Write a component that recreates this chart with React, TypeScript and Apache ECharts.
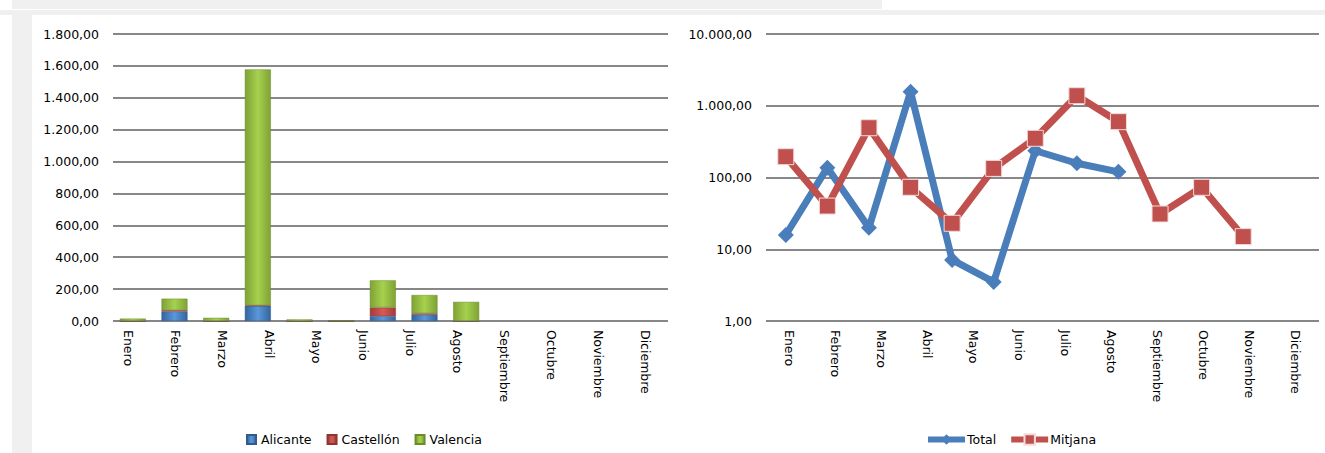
import React, { useEffect, useRef } from "react";
import * as echarts from "echarts";

const months = ["Enero", "Febrero", "Marzo", "Abril", "Mayo", "Junio", "Julio", "Agosto", "Septiembre", "Octubre", "Noviembre", "Diciembre"];
const alicante = [0, 60, 0, 95, 0, 0, 30, 40, 0, null, null, null];
const castellon = [0, 8, 0, 3, 0, 0, 55, 8, 0, null, null, null];
const valencia = [15, 72, 20, 1480, 10, 4, 170, 115, 120, null, null, null];
const total = [15.8, 137, 20, 1570, 7.1, 3.5, 236, 158, 120, null, null, null];
const mitjana = [195, 40, 494, 73, 23, 134, 352, 1380, 600, 31, 73, 15];
const leftTicks = { min: 0, max: 1800, interval: 200 };
const rightTicks = { min: 1, max: 10000 };

const FONT = "DejaVu Sans";

function fmt(v: number) {
  const s = Number(v).toFixed(2);
  const [i, d] = s.split(".");
  return i.replace(/\B(?=(\d{3})+(?!\d))/g, ".") + "," + d;
}

function barGrad(edge: string, mid: string) {
  return new echarts.graphic.LinearGradient(0, 0, 1, 0, [
    { offset: 0, color: edge },
    { offset: 0.5, color: mid },
    { offset: 1, color: edge },
  ]);
}

export default function App() {
  const ref = useRef<HTMLDivElement>(null);
  useEffect(() => {
    if (!ref.current) return;
    const chart = echarts.init(ref.current, undefined, { renderer: "svg" });
    const gridLine = { show: true, lineStyle: { color: "#878787", width: 2 } };
    const axisLbl = { fontFamily: FONT, fontSize: 12.5, color: "#000" };
    const option: any = {
      animation: false,
      backgroundColor: "#fff",
      graphic: [
        { type: "rect", shape: { x: 12, y: 0, width: 870, height: 9 }, style: { fill: "#f0f0f0" }, silent: true, z: -10 },
        { type: "rect", shape: { x: 0, y: 10, width: 1325, height: 5 }, style: { fill: "#f0f0f0" }, silent: true, z: -10 },
        { type: "rect", shape: { x: 12, y: 15, width: 20, height: 438 }, style: { fill: "#f0f0f0" }, silent: true, z: -10 },
      ],
      grid: [
        { left: 113, top: 34, width: 555, height: 287 },
        { left: 105, top: 34, width: 564, height: 287 },
        { left: 112, top: 34, width: 500, height: 287 },
        { left: 766, top: 34, width: 553, height: 287 },
        { left: 765, top: 34, width: 499, height: 287 },
      ],
      xAxis: [
        { type: "category", gridIndex: 0, data: months, show: false },
        {
          type: "category", gridIndex: 1, data: months,
          axisLine: { show: false }, axisTick: { show: false },
          axisLabel: { ...axisLbl, rotate: -90, margin: 9, interval: 0 },
        },
        { type: "category", gridIndex: 2, data: months, show: false },
        {
          type: "category", gridIndex: 3, data: months,
          axisLine: { show: false }, axisTick: { show: false },
          axisLabel: { ...axisLbl, rotate: -90, margin: 9, interval: 0 },
        },
        { type: "category", gridIndex: 4, data: months, show: false },
      ],
      yAxis: [
        {
          type: "value", gridIndex: 0, ...leftTicks,
          axisLine: { show: false }, axisTick: { show: false },
          splitLine: gridLine,
          axisLabel: { ...axisLbl, margin: 14, formatter: fmt },
        },
        { type: "value", gridIndex: 1, ...leftTicks, show: false, splitLine: { show: false } },
        { type: "value", gridIndex: 2, ...leftTicks, show: false, splitLine: { show: false } },
        {
          type: "log", logBase: 10, gridIndex: 3, ...rightTicks,
          axisLine: { show: false }, axisTick: { show: false },
          splitLine: gridLine, minorSplitLine: { show: false },
          axisLabel: { ...axisLbl, margin: 14, formatter: fmt },
        },
        { type: "log", logBase: 10, gridIndex: 4, ...rightTicks, show: false, splitLine: { show: false } },
      ],
      legend: [
        {
          data: ["Alicante", "Castellón", "Valencia"],
          left: 241, top: 428, icon: "rect", itemWidth: 9, itemHeight: 9, itemGap: 15,
          textStyle: { fontFamily: FONT, fontSize: 12.5, color: "#000" },
        },
        {
          data: ["Total", "Mitjana"],
          left: 920, top: 428, itemWidth: 37, itemHeight: 13, itemGap: 12,
          lineStyle: { width: 6 },
          textStyle: { fontFamily: FONT, fontSize: 12.5, color: "#000", padding: [0, 0, 0, -3] },
        },
      ],
      series: [
        {
          name: "Alicante", type: "bar", stack: "s", xAxisIndex: 2, yAxisIndex: 2, data: alicante,
          barWidth: 26, color: "#4f81bd",
          itemStyle: { color: barGrad("#34649e", "#5b97db"), borderColor: "#2f5b8f", borderWidth: 0.5 },
        },
        {
          name: "Castellón", type: "bar", stack: "s", xAxisIndex: 2, yAxisIndex: 2, data: castellon,
          barWidth: 26, color: "#c0504d",
          itemStyle: { color: barGrad("#a13c39", "#d35b58"), borderColor: "#8e3431", borderWidth: 0.5 },
        },
        {
          name: "Valencia", type: "bar", stack: "s", xAxisIndex: 2, yAxisIndex: 2, data: valencia,
          barWidth: 26, color: "#9bbb59",
          itemStyle: { color: barGrad("#7fa236", "#a6d14d"), borderColor: "#6c8c2b", borderWidth: 0.5 },
        },
        {
          name: "Total", type: "line", xAxisIndex: 4, yAxisIndex: 4, data: total,
          color: "#4a7ebb", symbol: "diamond", symbolSize: 16,
          lineStyle: { width: 7, color: "#4a7ebb" },
          itemStyle: { color: "#4a7ebb" },
          connectNulls: false,
        },
        {
          name: "Mitjana", type: "line", xAxisIndex: 4, yAxisIndex: 4, data: mitjana,
          color: "#c0504d", symbol: "rect", symbolSize: 16,
          lineStyle: { width: 7, color: "#c0504d" },
          itemStyle: { color: "#c0504d", borderColor: "#f2dcdb", borderWidth: 1 },
        },
      ],
    };
    chart.setOption(option);
    return () => chart.dispose();
  }, []);
  return (
    <div
      ref={ref}
      style={{ position: "absolute", left: 0, top: 0, width: 1325, height: 453 }}
    />
  );
}
